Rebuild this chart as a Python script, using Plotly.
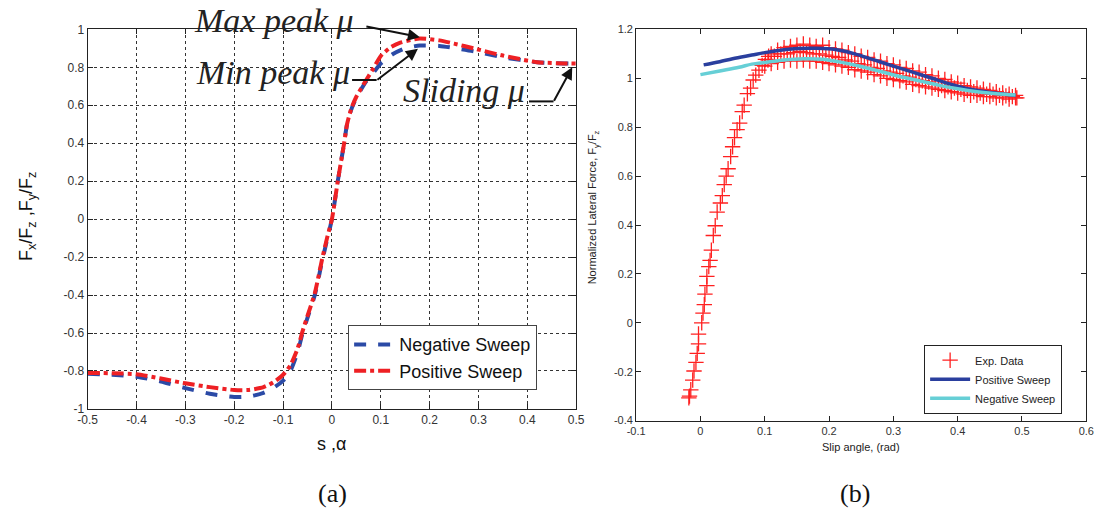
import plotly.graph_objects as go

# ---------- Panel (a) data ----------
neg_x = [-0.5, -0.45, -0.4, -0.35, -0.3, -0.25, -0.2, -0.17, -0.14, -0.12, -0.1, -0.085, -0.07, -0.06,
         -0.05, -0.035, -0.02, -0.01, 0.0, 0.012, 0.025, 0.031, 0.04, 0.05, 0.06, 0.069, 0.085, 0.1, 0.125,
         0.15, 0.18, 0.22, 0.26, 0.29, 0.35, 0.42, 0.46, 0.5]
neg_y = [-0.814, -0.82, -0.83, -0.855, -0.89, -0.92, -0.937, -0.935, -0.915, -0.89, -0.851, -0.8, -0.7, -0.6,
         -0.52, -0.4, -0.22, -0.11, 0.0, 0.2, 0.4, 0.5, 0.58, 0.64, 0.685, 0.722, 0.772, 0.82, 0.87,
         0.9, 0.915, 0.913, 0.898, 0.885, 0.853, 0.827, 0.822, 0.82]
pos_x = [-0.5, -0.45, -0.4, -0.35, -0.3, -0.25, -0.2, -0.17, -0.14, -0.12, -0.1, -0.085, -0.07, -0.06,
         -0.05, -0.035, -0.02, -0.01, 0.0, 0.012, 0.025, 0.031, 0.04, 0.05, 0.06, 0.069, 0.085, 0.1, 0.12,
         0.14, 0.18, 0.22, 0.25, 0.29, 0.35, 0.42, 0.46, 0.5]
pos_y = [-0.81, -0.812, -0.817, -0.84, -0.865, -0.885, -0.9, -0.9, -0.885, -0.86, -0.82, -0.77, -0.68, -0.59,
         -0.51, -0.39, -0.21, -0.1, 0.0, 0.2, 0.4, 0.5, 0.585, 0.645, 0.69, 0.728, 0.795, 0.86, 0.905,
         0.93, 0.952, 0.942, 0.925, 0.9, 0.862, 0.827, 0.822, 0.82]

a_xticks = [-0.5, -0.4, -0.3, -0.2, -0.1, 0, 0.1, 0.2, 0.3, 0.4, 0.5]
a_xlabels = ["-0.5", "-0.4", "-0.3", "-0.2", "-0.1", "0", "0.1", "0.2", "0.3", "0.4", "0.5"]
a_yticks = [-1, -0.8, -0.6, -0.4, -0.2, 0, 0.2, 0.4, 0.6, 0.8, 1]
a_ylabels = ["-1", "-0.8", "-0.6", "-0.4", "-0.2", "0", "0.2", "0.4", "0.6", "0.8", "1"]

# ---------- Panel (b) data ----------
exp_rise_x = [-0.018, -0.017, -0.015, -0.012, -0.010, -0.007, -0.005, -0.003, -0.003, 0.002, 0.004, 0.006,
              0.007, 0.010, 0.010, 0.013, 0.015, 0.017, 0.020, 0.023, 0.026, 0.031, 0.034, 0.037, 0.040,
              0.043, 0.047, 0.050, 0.053, 0.057, 0.061, 0.065, 0.068, 0.073, 0.078, 0.082, 0.086, 0.091,
              0.096, 0.101, 0.106]
exp_rise_y = [-0.307, -0.30, -0.274, -0.234, -0.197, -0.162, -0.125, -0.086, -0.046, 0.0, 0.04, 0.074,
              0.117, 0.152, 0.19, 0.23, 0.255, 0.297, 0.357, 0.397, 0.453, 0.49, 0.52, 0.565, 0.6,
              0.63, 0.68, 0.72, 0.757, 0.79, 0.817, 0.864, 0.89, 0.937, 0.96, 0.993, 1.013, 1.033,
              1.053, 1.077, 1.09]
exp_up_x = [0.11, 0.12, 0.13, 0.14, 0.15, 0.16, 0.17, 0.18, 0.19, 0.20, 0.21, 0.22, 0.23, 0.24, 0.25,
            0.26, 0.27, 0.28, 0.29, 0.30, 0.31, 0.32, 0.33, 0.34, 0.35, 0.36, 0.37, 0.38, 0.39, 0.40,
            0.41, 0.42, 0.43, 0.44, 0.45, 0.46, 0.47, 0.48, 0.49]
exp_up_y = [1.10, 1.115, 1.125, 1.13, 1.135, 1.14, 1.135, 1.13, 1.135, 1.125, 1.12, 1.115, 1.105, 1.10, 1.09,
            1.085, 1.075, 1.07, 1.06, 1.055, 1.045, 1.04, 1.03, 1.025, 1.015, 1.01, 1.0, 0.995, 0.985, 0.98,
            0.97, 0.965, 0.96, 0.955, 0.95, 0.945, 0.94, 0.935, 0.93]
exp_mid_x = [0.105, 0.115, 0.125, 0.135, 0.145, 0.155, 0.165, 0.175, 0.185, 0.195, 0.205, 0.215, 0.225,
             0.235, 0.245, 0.255, 0.265, 0.275, 0.285, 0.295, 0.305, 0.315, 0.325, 0.335, 0.345, 0.355,
             0.365, 0.375, 0.385, 0.395, 0.405, 0.415, 0.425, 0.435, 0.445, 0.455, 0.465, 0.475, 0.485, 0.492]
exp_mid_y = [1.075, 1.09, 1.1, 1.1, 1.105, 1.11, 1.105, 1.1, 1.1, 1.095, 1.09, 1.085, 1.075,
             1.07, 1.06, 1.055, 1.045, 1.04, 1.03, 1.025, 1.02, 1.01, 1.005, 0.995, 0.99, 0.985,
             0.975, 0.97, 0.965, 0.96, 0.955, 0.95, 0.945, 0.94, 0.935, 0.935, 0.93, 0.928, 0.925, 0.92]
exp_lo_x = [0.10, 0.11, 0.12, 0.13, 0.14, 0.15, 0.16, 0.17, 0.18, 0.19, 0.20, 0.21, 0.22, 0.23, 0.24,
            0.25, 0.26, 0.27, 0.28, 0.29, 0.30, 0.31, 0.32, 0.33, 0.34, 0.35, 0.36, 0.37, 0.38, 0.39,
            0.40, 0.41, 0.42, 0.43, 0.44, 0.45, 0.46, 0.47, 0.48, 0.49]
exp_lo_y = [1.05, 1.06, 1.065, 1.07, 1.075, 1.07, 1.075, 1.07, 1.07, 1.065, 1.06, 1.055, 1.05, 1.045, 1.035,
            1.03, 1.025, 1.015, 1.01, 1.0, 0.995, 0.99, 0.985, 0.975, 0.97, 0.965, 0.96, 0.955, 0.95, 0.945,
            0.94, 0.935, 0.93, 0.93, 0.925, 0.925, 0.92, 0.92, 0.915, 0.92]

psw_x = [0.005, 0.03, 0.05, 0.08, 0.1, 0.13, 0.15, 0.18, 0.21, 0.24, 0.27, 0.30, 0.33, 0.36, 0.39, 0.42, 0.45, 0.49]
psw_y = [1.055, 1.068, 1.08, 1.095, 1.105, 1.117, 1.122, 1.123, 1.118, 1.1, 1.075, 1.05, 1.025, 1.0, 0.975, 0.955, 0.942, 0.93]
nsw_x = [0.0, 0.03, 0.06, 0.08, 0.1, 0.13, 0.16, 0.19, 0.22, 0.25, 0.28, 0.31, 0.34, 0.37, 0.40, 0.43, 0.46, 0.49]
nsw_y = [1.015, 1.03, 1.045, 1.058, 1.065, 1.075, 1.08, 1.078, 1.065, 1.048, 1.028, 1.007, 0.99, 0.972, 0.957, 0.945, 0.937, 0.932]

b_xticks = [-0.1, 0, 0.1, 0.2, 0.3, 0.4, 0.5, 0.6]
b_xlabels = ["-0.1", "0", "0.1", "0.2", "0.3", "0.4", "0.5", "0.6"]
b_yticks = [-0.4, -0.2, 0, 0.2, 0.4, 0.6, 0.8, 1, 1.2]
b_ylabels = ["-0.4", "-0.2", "0", "0.2", "0.4", "0.6", "0.8", "1", "1.2"]

W, H = 1113, 523
def px(xp): return xp / W
def py(yp): return 1 - yp / H

BLUE_A = "#2b4aa6"
RED_A = "#ee2024"

fig = go.Figure()

fig.add_trace(go.Scatter(x=neg_x, y=neg_y, mode="lines", name="Negative Sweep",
                         line=dict(color=BLUE_A, width=4, dash="dash", shape="spline", smoothing=0.6),
                         xaxis="x", yaxis="y", legend="legend"))
fig.add_trace(go.Scatter(x=pos_x, y=pos_y, mode="lines", name="Positive Sweep",
                         line=dict(color=RED_A, width=4, dash="dashdot", shape="spline", smoothing=0.6),
                         xaxis="x", yaxis="y", legend="legend"))

mk = dict(symbol="cross-thin", size=11, color="#ff2020", line=dict(width=1.3, color="#ff2020"))
ex_x = exp_rise_x + exp_up_x + exp_mid_x + exp_lo_x
ex_y = exp_rise_y + exp_up_y + exp_mid_y + exp_lo_y
fig.add_trace(go.Scatter(x=ex_x, y=ex_y, mode="markers", name="Exp. Data", marker=mk,
                         xaxis="x2", yaxis="y2", legend="legend2"))
fig.add_trace(go.Scatter(x=psw_x, y=psw_y, mode="lines", name="Positive Sweep",
                         line=dict(color="#2a3f9e", width=3.5, shape="spline"),
                         xaxis="x2", yaxis="y2", legend="legend2"))
fig.add_trace(go.Scatter(x=nsw_x, y=nsw_y, mode="lines", name="Negative Sweep",
                         line=dict(color="#66cfd6", width=3.5, shape="spline"),
                         xaxis="x2", yaxis="y2", legend="legend2"))

axis_common = dict(showline=True, linecolor="#222", linewidth=1, mirror="ticks", ticks="inside",
                   ticklen=5, tickcolor="#222", zeroline=False)

fig.update_layout(
    width=W, height=H, margin=dict(l=0, r=0, t=0, b=0),
    paper_bgcolor="white", plot_bgcolor="white",
    xaxis=dict(domain=[px(79), px(576)], range=[-0.5, 0.5], tickvals=a_xticks, ticktext=a_xlabels,
               showgrid=True, gridcolor="#333", griddash="3px,3px", gridwidth=1,
               tickfont=dict(family="Arial", size=12, color="#333"), anchor="y", **axis_common),
    yaxis=dict(domain=[py(413), py(23)], range=[-1, 1], tickvals=a_yticks, ticktext=a_ylabels,
               showgrid=True, gridcolor="#333", griddash="3px,3px", gridwidth=1,
               tickfont=dict(family="Arial", size=12, color="#333"), anchor="x", **axis_common),
    xaxis2=dict(domain=[px(637), px(1095)], range=[-0.1, 0.6], tickvals=b_xticks, ticktext=b_xlabels,
                showgrid=False, tickfont=dict(family="Arial", size=11, color="#333"), anchor="y2",
                **axis_common),
    yaxis2=dict(domain=[py(425), py(23)], range=[-0.4, 1.2], tickvals=b_yticks, ticktext=b_ylabels,
                showgrid=False, tickfont=dict(family="Arial", size=11, color="#333"), anchor="x2",
                **axis_common),
    legend=dict(x=px(344), y=py(327), xanchor="left", yanchor="top", bgcolor="white",
                bordercolor="#444", borderwidth=1, font=dict(family="Arial", size=18, color="#111"),
                tracegroupgap=0, itemwidth=40),
    legend2=dict(x=px(930), y=py(347), xanchor="left", yanchor="top", bgcolor="white",
                 bordercolor="#222", borderwidth=1, font=dict(family="Arial", size=11, color="#222"),
                 tracegroupgap=0, itemwidth=40),
)

serif = "Liberation Serif, Times New Roman, serif"
ann = []
# axis titles
ann.append(dict(text="F<sub>x</sub>/F<sub>z</sub> ,F<sub>y</sub>/F<sub>z</sub>", x=px(18), y=py(215),
                xref="paper", yref="paper", textangle=-90, showarrow=False,
                xanchor="center", yanchor="middle",
                font=dict(family="Arial", size=18, color="#111")))
ann.append(dict(text="s ,α", x=px(327), y=py(449), xref="paper", yref="paper", showarrow=False,
                xanchor="center", yanchor="middle",
                font=dict(family="Arial", size=18, color="#111")))
ann.append(dict(text="Normalized Lateral Force, F<sub>y</sub>/F<sub>z</sub>", x=px(594), y=py(206),
                xref="paper", yref="paper", textangle=-90, showarrow=False,
                xanchor="center", yanchor="middle",
                font=dict(family="Arial", size=11, color="#222")))
ann.append(dict(text="Slip angle, (rad)", x=px(866), y=py(452), xref="paper", yref="paper",
                xanchor="center", yanchor="middle",
                showarrow=False, font=dict(family="Arial", size=11, color="#222")))
# panel labels
ann.append(dict(text="(a)", x=px(328), y=py(500), xref="paper", yref="paper", showarrow=False,
                xanchor="center", yanchor="middle",
                font=dict(family=serif, size=26, color="#111")))
ann.append(dict(text="(b)", x=px(860), y=py(500), xref="paper", yref="paper", showarrow=False,
                xanchor="center", yanchor="middle",
                font=dict(family=serif, size=26, color="#111")))
# callouts
ann.append(dict(text="<i>Max peak μ</i>", x=px(269), y=py(14), xref="paper", yref="paper",
                xanchor="center", yanchor="middle",
                showarrow=False, font=dict(family=serif, size=34, color="#222")))
ann.append(dict(text="<i>Min peak μ</i>", x=px(268), y=py(67), xref="paper", yref="paper",
                xanchor="center", yanchor="middle",
                showarrow=False, font=dict(family=serif, size=34, color="#222")))
ann.append(dict(text="<i>Sliding μ</i>", x=px(462), y=py(86), xref="paper", yref="paper",
                xanchor="center", yanchor="middle",
                showarrow=False, font=dict(family=serif, size=34, color="#222")))
# arrows
ann.append(dict(text="", x=px(417), y=py(31), xref="paper", yref="paper", ax=-55, ay=-11,
                showarrow=True, arrowhead=2, arrowsize=1.2, arrowwidth=2, arrowcolor="#111"))
ann.append(dict(text="", x=px(415), y=py(43), xref="paper", yref="paper", ax=-42, ay=32,
                showarrow=True, arrowhead=2, arrowsize=1.2, arrowwidth=2, arrowcolor="#111"))
ann.append(dict(text="", x=px(572), y=py(62), xref="paper", yref="paper", ax=-19, ay=35,
                showarrow=True, arrowhead=2, arrowsize=1.2, arrowwidth=2, arrowcolor="#111"))
fig.update_layout(annotations=ann)

shapes = [
    dict(type="line", xref="paper", yref="paper", x0=px(348), x1=px(373), y0=py(75), y1=py(75),
         line=dict(color="#111", width=2)),
    dict(type="line", xref="paper", yref="paper", x0=px(528), x1=px(553), y0=py(97), y1=py(97),
         line=dict(color="#111", width=2)),
]
fig.update_layout(shapes=shapes)

fig.write_html("out.html")
